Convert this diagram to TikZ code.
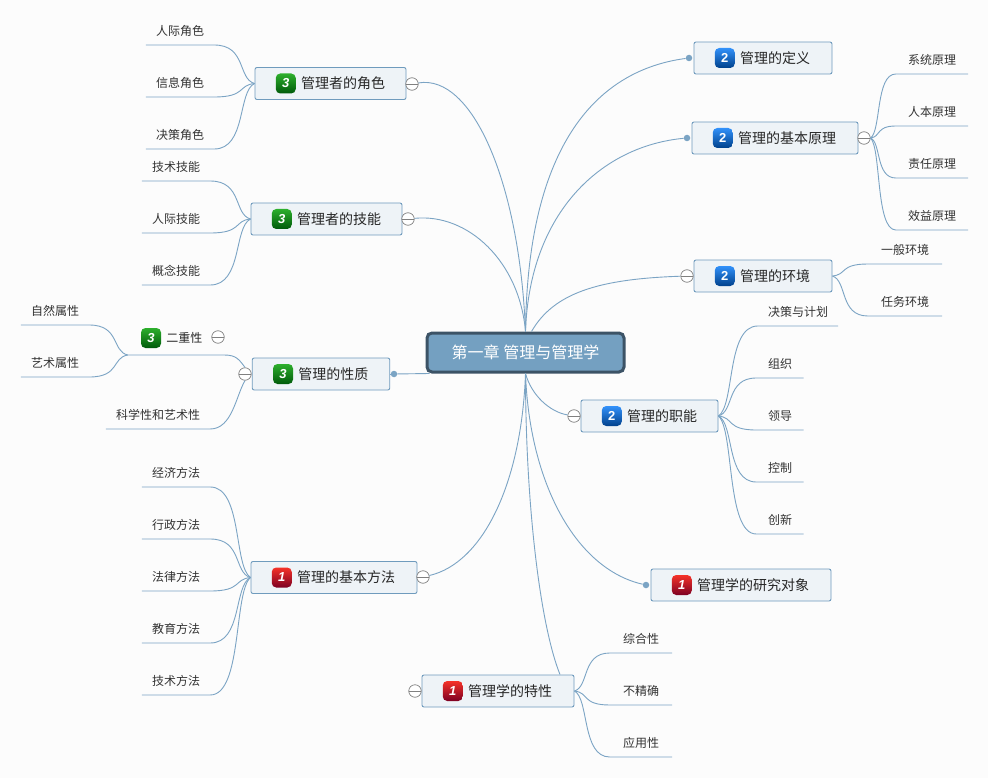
\documentclass[tikz,border=0pt]{standalone}
\usepackage{fontspec}
\setmainfont{Noto Sans CJK SC}
\newfontfamily\numfont{Liberation Sans}
\usetikzlibrary{positioning,calc}
\definecolor{clink}{RGB}{123,164,196}
\definecolor{cedge}{RGB}{111,155,189}
\definecolor{cbox}{RGB}{238,243,247}
\definecolor{croot}{RGB}{116,160,193}
\definecolor{crootedge}{RGB}{60,83,102}
\definecolor{cpage}{RGB}{252,252,252}
\definecolor{credA}{RGB}{245,50,40}
\definecolor{credB}{RGB}{215,10,15}
\definecolor{credC}{RGB}{125,0,35}
\definecolor{cblueA}{RGB}{50,145,250}
\definecolor{cblueB}{RGB}{5,105,235}
\definecolor{cblueC}{RGB}{0,65,140}
\definecolor{cgreenA}{RGB}{45,175,45}
\definecolor{cgreenB}{RGB}{5,150,10}
\definecolor{cgreenC}{RGB}{0,90,10}
\tikzset{topic/.style={draw=cedge,fill=cbox,line width=0.9pt,rounded corners=2pt,minimum height=32},
         toptext/.style={inner sep=0pt,text=black!85,font=\fontsize{14}{16}\selectfont},
         leaf/.style={minimum height=27,inner sep=0pt,anchor=south,text=black!80,font=\fontsize{12}{14}\selectfont},
         link/.style={clink,line width=0.9pt},
         fold/.style={circle,draw=black!50,fill=white,line width=0.7pt,minimum size=12.5,inner sep=0pt,
           path picture={\draw[black!50,line width=0.7pt] (path picture bounding box.west) -- (path picture bounding box.east);}},
         dot/.style={circle,fill=clink,minimum size=6.5,inner sep=0pt},
         pri/.style={rounded corners=4.5pt,minimum size=20,inner sep=0pt,text=white},
         pri1/.style={pri,top color=credA,middle color=credB,bottom color=credC,font=\numfont\itshape\bfseries\fontsize{13}{13}\selectfont},
         pri2/.style={pri,top color=cblueA,middle color=cblueB,bottom color=cblueC,font=\numfont\bfseries\fontsize{13}{13}\selectfont},
         pri3/.style={pri,top color=cgreenA,middle color=cgreenB,bottom color=cgreenC,font=\numfont\itshape\bfseries\fontsize{13}{13}\selectfont}}
% underline of a leaf, then its curve up to the parent
\newcommand\twig[3]{\draw[link] let \p1=(#1),\p2=(#3) in (#2) -- (\p1)
    .. controls ({\x1+.8*(\x2-\x1)},\y1) and ({\x1+.58*(\x2-\x1)},{\y2+.12*(\y1-\y2)}) .. (\p2);}
\begin{document}
\begin{tikzpicture}[x=1pt,y=-1pt]
    \fill[cpage] (0,0) rectangle (988,778);
    \useasboundingbox (0,0) rectangle (988,778);
    \node (root) [draw=crootedge,fill=croot,line width=3pt,rounded corners=5pt,minimum width=197,minimum height=39,
        text=white,font=\fontsize{16}{18}\selectfont] at (525.5,352.5) {第一章 管理与管理学};
    \foreach \nm/\cx/\cy/\w/\pr/\txt in {
        role/330.5/83.5/151/3/管理者的角色, skill/326.5/219/151/3/管理者的技能,
        nature/321/374/137.5/3/管理的性质, method/334/577.5/166/1/管理的基本方法,
        feat/498/691/152/1/管理学的特性, defn/763/58/138/2/管理的定义,
        princ/775/138/166/2/管理的基本原理, envi/763/276/138/2/管理的环境,
        func/649.5/416/137/2/管理的职能, obj/741/585/180/1/管理学的研究对象} {
      \node (\nm) [topic,minimum width=\w] at (\cx,\cy) {};
      \node (\nm-icon) [pri\pr,right=21pt of \nm.west] {\pr};
      \node (\nm-text) [toptext,right=5pt of \nm-icon] {\txt};
    }
    \foreach \nm/\x/\y in {rolefold/412/84, skillfold/408/219, dualfold/218/337, natfold/245/374,
        methfold/423/577, featfold/415/691, princfold/864/138, envifold/687/276, funcfold/574/416}
      \node (\nm) [fold] at (\x,\y) {};
    \foreach \nm/\x/\y in {defndot/689/58, princdot/687/138, natdot/394/374, objdot/646/585}
      \node (\nm) [dot] at (\x,\y) {};
    % root to topics
    \draw[link] (root.north) .. controls +(2,-190) and +(-90,12) .. (defndot);
    \draw[link] (root.north) .. controls +(4,-120) and +(-85,8) .. (princdot);
    \draw[link] ([xshift=6pt]root.north) .. controls +(22,-38) and +(-90,3) .. (envifold);
    \draw[link] (root.south) .. controls +(6,22) and +(-24,-4) .. (funcfold);
    \draw[link] (root.south) .. controls +(4,110) and +(-70,-16) .. (objdot);
    \draw[link] (root.south) .. controls +(0,130) and +(-20,-50) .. ([xshift=62pt]feat.north);
    \draw[link] (root.south) .. controls +(-4,110) and +(60,-14) .. (methfold);
    \draw[link] ([xshift=4pt]root.south west) -- (natdot);
    \draw[link] (root.north) .. controls +(-6,-150) and +(60,-10) .. (rolefold);
    \draw[link] (root.north) .. controls +(-6,-70) and +(60,-6) .. (skillfold);
    \draw[link] (natdot) -- (nature.east);
    % dual node sits on its own underline
    \node (dual) [leaf,minimum width=96] at (176,355) {};
    \node (dual-icon) [pri3] at (151,338) {3};
    \node (dual-text) [toptext,font=\fontsize{12}{14}\selectfont,right=5pt of dual-icon] {二重性};
    \draw[link] (dual.south west) -- (dual.south east) .. controls +(12,0) and +(-6,-8) .. (natfold.north);
    \node (sci) [leaf,minimum width=104] at (158,429) {科学性和艺术性};
    \draw[link] (sci.south west) -- (sci.south east) .. controls +(22,0) and +(-9,15) .. (natfold.south);
    % leaves left of the parent
    \foreach \lf/\cx/\ul/\w/\up/\txt in {
        roleA/180/45/68/role.west/人际角色, roleB/180/97/68/role.west/信息角色, roleC/180/149/68/role.west/决策角色,
        skillA/176/181/68/skill.west/技术技能, skillB/176/233/68/skill.west/人际技能, skillC/176/285/68/skill.west/概念技能,
        dualA/55/325/68/dual.south west/自然属性, dualB/55/377/68/dual.south west/艺术属性,
        methA/176/487/68/method.west/经济方法, methB/176/539/68/method.west/行政方法, methC/176/591/68/method.west/法律方法,
        methD/176/643/68/method.west/教育方法, methE/176/695/68/method.west/技术方法} {
      \node (\lf) [leaf,minimum width=\w] at (\cx,\ul) {\txt};
      \twig{\lf.south east}{\lf.south west}{\up}
    }
    % leaves right of the parent
    \foreach \lf/\cx/\ul/\w/\up/\txt in {
        princA/932/74/72/princfold.east/系统原理, princB/932/126/72/princfold.east/人本原理,
        princC/932/178/72/princfold.east/责任原理, princD/932/230/72/princfold.east/效益原理,
        enviA/905/264/74/envi.east/一般环境, enviB/905/316/74/envi.east/任务环境,
        funcA/798/326/80/func.east/决策与计划, funcB/780/378/47/func.east/组织, funcC/780/430/47/func.east/领导,
        funcD/780/482/47/func.east/控制, funcE/780/534/47/func.east/创新,
        featA/641/653/62/feat.east/综合性, featB/641/705/62/feat.east/不精确, featC/641/757/62/feat.east/应用性} {
      \node (\lf) [leaf,minimum width=\w] at (\cx,\ul) {\txt};
      \twig{\lf.south west}{\lf.south east}{\up}
    }
  \end{tikzpicture}
\end{document}
